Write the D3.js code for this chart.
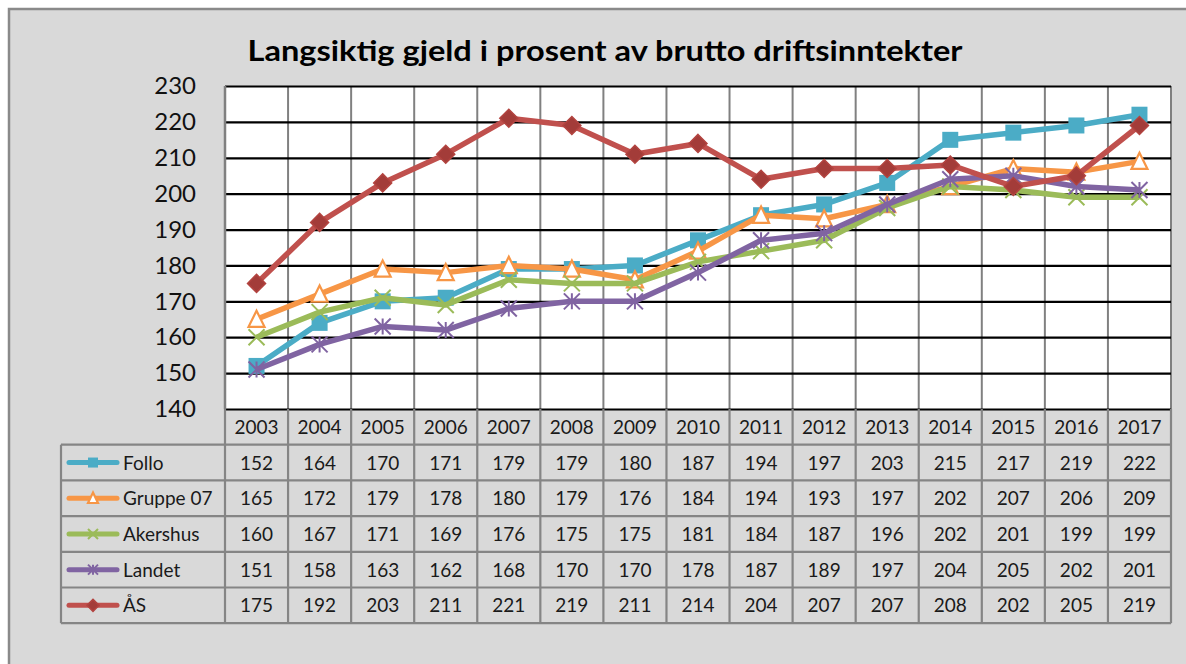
<!DOCTYPE html>
<html lang="no">
<head>
<meta charset="utf-8">
<title>Langsiktig gjeld</title>
<script src="https://cdn.jsdelivr.net/npm/d3@7"></script>
<style>
  body { margin: 0; background: #fff; }
  svg { display: block; font-family: Lato, "Open Sans", sans-serif; }
</style>
</head>
<body>
<svg width="1186" height="664"></svg>
<script>
// data
var years = ["2003","2004","2005","2006","2007","2008","2009","2010","2011","2012","2013","2014","2015","2016","2017"];
var seriesNames = ["Follo", "Gruppe 07", "Akershus", "Landet", "ÅS"];
var follo    = [152,164,170,171,179,179,180,187,194,197,203,215,217,219,222];
var gruppe07 = [165,172,179,178,180,179,176,184,194,193,197,202,207,206,209];
var akershus = [160,167,171,169,176,175,175,181,184,187,196,202,201,199,199];
var landet   = [151,158,163,162,168,170,170,178,187,189,197,204,205,202,201];
var aas      = [175,192,203,211,221,219,211,214,204,207,207,208,202,205,219];
var yTicks = [140,150,160,170,180,190,200,210,220,230];

var series = [
  {name: seriesNames[0], values: follo,    color: "#4bacc6", marker: "square"},
  {name: seriesNames[1], values: gruppe07, color: "#f79646", marker: "triangle"},
  {name: seriesNames[2], values: akershus, color: "#9bbb59", marker: "x"},
  {name: seriesNames[3], values: landet,   color: "#8064a2", marker: "star"},
  {name: seriesNames[4], values: aas,      color: "#c0504d", marker: "diamond"}
];

var svg = d3.select("svg");
var plotL = 225, plotR = 1171, plotT = 86, plotB = 409;

// chart frame
svg.append("rect")
  .attr("x", 9).attr("y", 9).attr("width", 1200).attr("height", 700)
  .attr("fill", "#d9d9d9").attr("stroke", "#8a8a8a").attr("stroke-width", 2.5);

svg.append("text")
  .attr("x", 605).attr("y", 61)
  .attr("text-anchor", "middle")
  .attr("font-size", 28).attr("font-weight", "bold").attr("fill", "#000")
  .attr("textLength", 715).attr("lengthAdjust", "spacingAndGlyphs")
  .text("Langsiktig gjeld i prosent av brutto driftsinntekter");

var x = d3.scaleBand().domain(years).range([plotL, plotR]);
var y = d3.scaleLinear().domain([140, 230]).range([plotB, plotT]);

svg.append("rect")
  .attr("x", plotL).attr("y", plotT).attr("width", plotR - plotL).attr("height", plotB - plotT)
  .attr("fill", "#fff");

// vertical grid (category boundaries)
var bounds = years.map(function(d) { return x(d); }).concat([plotR]);
svg.append("g").selectAll("line").data(bounds).enter().append("line")
  .attr("x1", function(d) { return d; }).attr("x2", function(d) { return d; })
  .attr("y1", plotT).attr("y2", plotB)
  .attr("stroke", "#808080").attr("stroke-width", 2);

// horizontal grid
var yAxis = svg.append("g")
  .attr("transform", "translate(" + plotL + ",0)")
  .call(d3.axisLeft(y).tickValues(yTicks).tickSize(-(plotR - plotL)).tickPadding(29));
yAxis.select(".domain").remove();
yAxis.selectAll(".tick line").attr("stroke", "#000").attr("stroke-width", 2.2);
yAxis.selectAll(".tick text")
  .attr("font-size", 24).attr("fill", "#111").attr("font-family", "Lato, sans-serif");

svg.append("line")
  .attr("x1", plotL).attr("x2", plotL).attr("y1", plotT).attr("y2", plotB)
  .attr("stroke", "#808080").attr("stroke-width", 2.5);

// lines
var line = d3.line()
  .x(function(d, i) { return x(years[i]) + x.bandwidth() / 2; })
  .y(function(d) { return y(d); });

function drawMarker(g, type, color, s) {
  if (type === "square") {
    g.append("rect").attr("x", -s / 2).attr("y", -s / 2).attr("width", s).attr("height", s)
      .attr("fill", color);
  } else if (type === "triangle") {
    var h = s * 0.95;
    g.append("path")
      .attr("d", "M0," + (-h / 2 - 1) + "L" + (s / 2) + "," + (h / 2) + "L" + (-s / 2) + "," + (h / 2) + "Z")
      .attr("fill", "#fff").attr("stroke", color).attr("stroke-width", 2.2);
  } else if (type === "x") {
    var a = s / 2;
    g.append("path").attr("d", "M" + -a + "," + -a + "L" + a + "," + a + "M" + a + "," + -a + "L" + -a + "," + a)
      .attr("stroke", color).attr("stroke-width", 2);
  } else if (type === "star") {
    var b = s / 2;
    g.append("path").attr("d", "M" + -b + "," + -b + "L" + b + "," + b + "M" + b + "," + -b + "L" + -b + "," + b + "M0," + -b + "L0," + b)
      .attr("stroke", color).attr("stroke-width", 2);
  } else if (type === "diamond") {
    var c = s / 2 + 1;
    g.append("path").attr("d", "M0," + -c + "L" + c + ",0L0," + c + "L" + -c + ",0Z")
      .attr("fill", "#a33c39").attr("stroke", "#b2433f").attr("stroke-width", 1.5);
  }
}

var gs = svg.selectAll(".series").data(series).enter().append("g").attr("class", "series");
gs.append("path")
  .attr("d", function(d) { return line(d.values); })
  .attr("fill", "none")
  .attr("stroke", function(d) { return d.color; })
  .attr("stroke-width", 5.5)
  .attr("stroke-linejoin", "round");
gs.each(function(d) {
  var g = d3.select(this);
  d.values.forEach(function(v, i) {
    var m = g.append("g")
      .attr("transform", "translate(" + (x(years[i]) + x.bandwidth() / 2) + "," + y(v) + ")");
    drawMarker(m, d.marker, d.color, 16);
  });
});

// data table
var rowH = 35.7;
var rows = d3.scaleBand().domain(["year"].concat(seriesNames)).range([plotB, plotB + rowH * 6]);
var tableLeft = 61;
var grid = "#858585";
var tbl = svg.append("g");

// header row
years.forEach(function(yr) {
  tbl.append("text")
    .attr("x", x(yr) + x.bandwidth() / 2).attr("y", rows("year") + rowH / 2 + 7)
    .attr("text-anchor", "middle").attr("font-size", 19).attr("fill", "#1a1a1a")
    .text(yr);
});

series.forEach(function(s, si) {
  var ry = rows(s.name);
  s.values.forEach(function(v, i) {
    tbl.append("text")
      .attr("x", x(years[i]) + x.bandwidth() / 2).attr("y", ry + rowH / 2 + 7)
      .attr("text-anchor", "middle").attr("font-size", 19).attr("fill", "#1a1a1a")
      .text(v);
  });
  // legend key
  var cy = ry + rowH / 2;
  tbl.append("line")
    .attr("x1", 69).attr("x2", 117).attr("y1", cy).attr("y2", cy)
    .attr("stroke", s.color).attr("stroke-width", 5).attr("stroke-linecap", "round");
  var km = tbl.append("g").attr("transform", "translate(93," + cy + ")");
  drawMarker(km, s.marker, s.color, 10);
  tbl.append("text")
    .attr("x", 123).attr("y", cy + 7)
    .attr("font-size", 19).attr("fill", "#1a1a1a")
    .text(s.name);
});

// table lines
var tableBottom = plotB + rowH * 6;
var hLines = [rows(seriesNames[0])].concat(seriesNames.map(function(n) { return rows(n) + rowH; }));
hLines.forEach(function(hy) {
  tbl.append("line").attr("x1", tableLeft).attr("x2", plotR).attr("y1", hy).attr("y2", hy)
    .attr("stroke", grid).attr("stroke-width", 2.2);
});
bounds.forEach(function(bx) {
  tbl.append("line").attr("x1", bx).attr("x2", bx).attr("y1", plotB).attr("y2", tableBottom)
    .attr("stroke", grid).attr("stroke-width", 2.2);
});
tbl.append("line").attr("x1", tableLeft).attr("x2", tableLeft)
  .attr("y1", rows(seriesNames[0])).attr("y2", tableBottom)
  .attr("stroke", grid).attr("stroke-width", 2.2);
</script>
</body>
</html>
